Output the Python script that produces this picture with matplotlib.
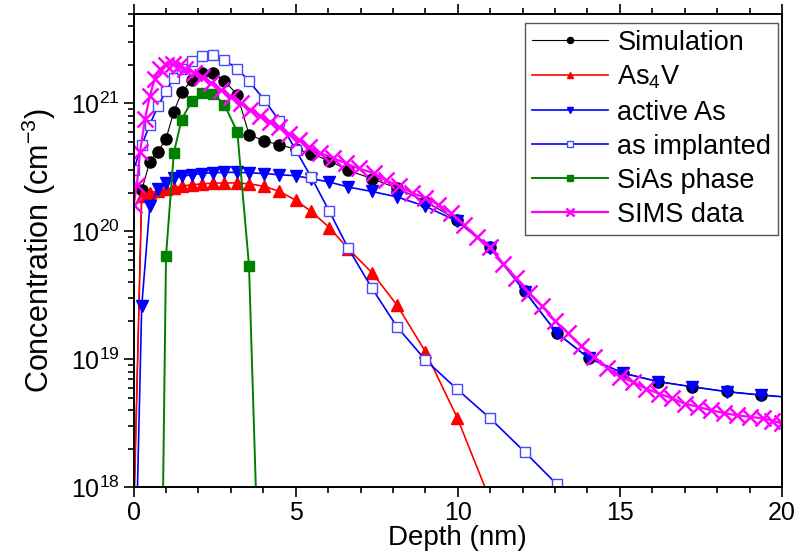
import numpy as np
import matplotlib
matplotlib.use('Agg')
import matplotlib.pyplot as plt
from matplotlib.ticker import MultipleLocator, LogLocator, NullFormatter

plt.rcParams['font.family'] = ['Liberation Sans', 'DejaVu Sans']
plt.rcParams['mathtext.default'] = 'regular'

# depth grid of the simulation (nm)
depth = [0, 0.25, 0.5, 0.75, 1.0, 1.24, 1.48, 1.79, 2.1, 2.44, 2.8, 3.2, 3.56,
         4.03, 4.5, 5.0, 5.48, 6.04, 6.62, 7.35, 8.12, 9.0, 9.98, 11.0, 12.07,
         13.06, 14.04, 15.11, 16.18, 17.22, 18.3, 19.36, 20.4]

simulation = [5.5e17, 2.1e20, 3.5e20, 4.2e20, 5.3e20, 8.6e20, 1.22e21, 1.52e21,
              1.72e21, 1.74e21, 1.5e21, 1.17e21, 5.7e20, 5.1e20, 4.74e20, 4.4e20,
              4.05e20, 3.55e20, 3.0e20, 2.58e20, 2.18e20, 1.71e20, 1.23e20, 7.5e19,
              3.4e19, 1.6e19, 1.02e19, 7.8e18, 6.7e18, 6.1e18, 5.6e18, 5.25e18, 5.0e18]

as4v = [5e17, 1.9e20, 2.0e20, 2.07e20, 2.14e20, 2.2e20, 2.26e20, 2.31e20, 2.35e20,
        2.38e20, 2.39e20, 2.39e20, 2.35e20, 2.25e20, 2.05e20, 1.75e20, 1.43e20,
        1.07e20, 7.3e19, 4.76e19, 2.66e19, 1.15e19, 3.5e18, 7.9e17]

active_as = [5e16, 2.6e19, 1.57e20, 2.14e20, 2.39e20, 2.6e20, 2.69e20, 2.77e20,
             2.83e20, 2.87e20, 2.89e20, 2.89e20, 2.87e20, 2.83e20, 2.77e20, 2.72e20,
             2.58e20, 2.43e20, 2.22e20, 2.05e20, 1.86e20, 1.57e20, 1.2e20, 7.4e19,
             3.38e19, 1.6e19, 1.02e19, 7.77e18, 6.68e18, 6.1e18, 5.57e18, 5.25e18, 5.0e18]

as_implanted = [3.0e20, 4.7e20, 6.84e20, 9.5e20, 1.25e21, 1.59e21, 1.87e21, 2.14e21,
                2.34e21, 2.37e21, 2.18e21, 1.87e21, 1.49e21, 1.07e21, 7.26e20, 4.32e20,
                2.65e20, 1.43e20, 7.38e19, 3.6e19, 1.8e19, 9.88e18, 5.83e18, 3.45e18,
                1.88e18, 1.05e18, 5.5e17]

# SiAs phase only exists between ~0.75 and ~4 nm
sias_depth = [0.75, 1.0, 1.24, 1.48, 1.79, 2.1, 2.44, 2.8, 3.2, 3.56, 4.03]
sias = [6e14, 6.44e19, 4.1e20, 7.48e20, 1.04e21, 1.21e21, 1.19e21, 9.8e20,
        5.96e20, 5.38e19, 7e15]

sims_depth = [0.0, 0.1, 0.2, 0.35, 0.5, 0.65, 0.8, 1.0, 1.2, 1.4, 1.6, 1.85, 2.1,
              2.4, 2.7, 3.0, 3.3, 3.6, 3.9, 4.2, 4.5, 4.8, 5.1, 5.4, 5.75, 6.15,
              6.55, 6.95, 7.4, 7.8, 8.2, 8.6, 9.0, 9.4, 9.8, 10.2, 10.6, 11.0, 11.4,
              11.8, 12.2, 12.6, 13.0, 13.4, 13.8, 14.2, 14.6, 15.0, 15.4, 15.8,
              16.2, 16.6, 17.0, 17.4, 17.8, 18.2, 18.6, 19.0, 19.4, 19.7, 20.0]
sims = [1.6e20, 2.3e20, 4.2e20, 7.5e20, 1.14e21, 1.55e21, 1.85e21, 2.0e21, 2.02e21,
        1.96e21, 1.87e21, 1.74e21, 1.62e21, 1.45e21, 1.28e21, 1.13e21, 1.0e21,
        8.9e20, 8.0e20, 7.2e20, 6.5e20, 5.8e20, 5.15e20, 4.6e20, 4.1e20, 3.75e20,
        3.4e20, 3.1e20, 2.85e20, 2.5e20, 2.25e20, 2.0e20, 1.82e20, 1.62e20, 1.38e20,
        1.12e20, 9.0e19, 7.5e19, 5.6e19, 4.3e19, 3.3e19, 2.6e19, 2.0e19, 1.6e19,
        1.28e19, 1.05e19, 8.6e18, 7.3e18, 6.65e18, 5.9e18, 5.4e18, 4.95e18, 4.5e18,
        4.25e18, 4.0e18, 3.8e18, 3.65e18, 3.55e18, 3.45e18, 3.32e18, 3.15e18]

fig = plt.figure(figsize=(8, 5.6), dpi=100)
ax = fig.add_axes([0.167, 0.130, 0.8105, 0.845])

ax.plot(depth, simulation, '-o', color='black', lw=0.8, ms=8, label='Simulation')
ax.plot(depth[:len(as4v)], as4v, '-^', color='red', lw=1.2, ms=9, label='As$_4$V')
ax.plot(depth, active_as, '-v', color='blue', lw=1.2, ms=9, label='active As')
ax.plot(depth[:len(as_implanted)], as_implanted, '-s', color='blue', lw=1.2, ms=7.5,
        mfc='white', mec='#4848ff', mew=1.0, label='as implanted')
ax.plot(sias_depth, sias, '-s', color='green', lw=1.4, ms=7.5, label='SiAs phase')
ax.plot(sims_depth, sims, '-x', color='magenta', lw=1.6, ms=11, mew=1.8,
        label='SIMS data')

ax.set_yscale('log')
ax.set_xlim(0, 20)
ax.set_ylim(1e18, 5e21)

ax.xaxis.set_major_locator(MultipleLocator(5))
ax.xaxis.set_minor_locator(MultipleLocator(1))
ax.yaxis.set_major_locator(LogLocator(base=10))
ax.yaxis.set_minor_locator(LogLocator(base=10, subs=np.arange(2, 10)))
ax.yaxis.set_minor_formatter(NullFormatter())

ax.tick_params(which='both', direction='out', top=True, right=False,
               labelsize=18, width=1.2)
ax.tick_params(which='major', length=7, pad=3)
ax.tick_params(which='minor', length=4)
for s in ax.spines.values():
    s.set_linewidth(1.4)

ax.set_xlabel('Depth (nm)', fontsize=20, labelpad=0)
ax.set_ylabel('Concentration (cm$^{-3}$)', fontsize=22, labelpad=9)

leg = ax.legend(loc='upper right', bbox_to_anchor=(0.994, 0.981), fontsize=19.5,
                markerscale=0.55, handlelength=2.8, labelspacing=0.3,
                handletextpad=0.35, borderpad=0.25, borderaxespad=0,
                fancybox=False, framealpha=1)
leg.get_frame().set_edgecolor('#555555')
leg.get_frame().set_linewidth(1.0)

fig.savefig('out.png', dpi=100)
